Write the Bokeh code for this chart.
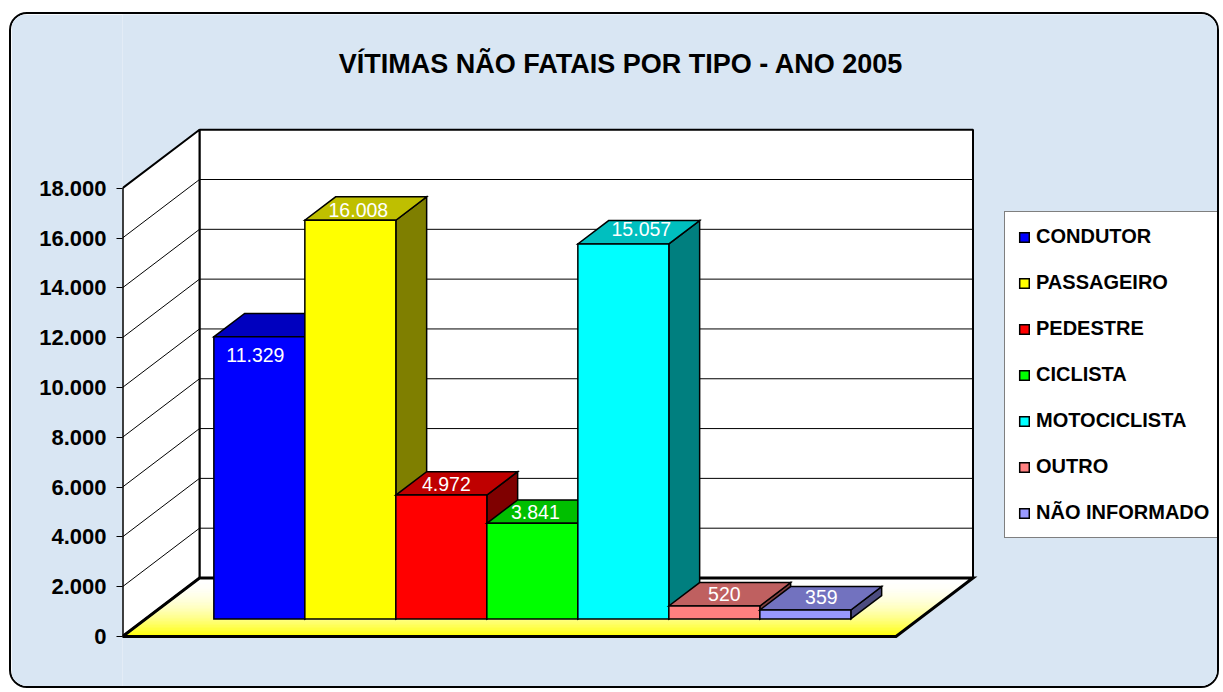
from bokeh.plotting import figure
from bokeh.models import Range1d, Legend, LegendItem, Label, FixedTicker, ColumnDataSource
from bokeh.embed import file_html
from bokeh.resources import INLINE

# ---------------- data ----------------
title_text = "VÍTIMAS NÃO FATAIS POR TIPO - ANO 2005"
categories = ["CONDUTOR", "PASSAGEIRO", "PEDESTRE", "CICLISTA",
              "MOTOCICLISTA", "OUTRO", "NÃO INFORMADO"]
vitimas = [11329, 16008, 4972, 3841, 15057, 520, 359]
y_ticks = [0, 2000, 4000, 6000, 8000, 10000, 12000, 14000, 16000, 18000]
y_tick_labels = ["0", "2.000", "4.000", "6.000", "8.000", "10.000",
                 "12.000", "14.000", "16.000", "18.000"]

# ---------------- style ----------------
front_colors = ["#0000ff", "#ffff00", "#ff0000", "#00ff00",
                "#00ffff", "#ff8080", "#9999ff"]
# pixel nudges of the value labels (right, down) from the top-front centre
label_nudge_px = [(-4, 18), (8, -10), (5, -11.5), (3, -11.5),
                  (18, -14.5), (10, -11.5), (16, -13.5)]
BG = "#d9e6f3"
FONT = "Liberation Sans"

OX, OY = 11, 14           # page position of the canvas origin
W, H = 1210, 676          # canvas size (inside a 2px css border)
LEFT = 122 - OX           # frame left (canvas px) = front edge of left wall
PX_X = 91.0               # px per category slot
PX_Y = 448.3 / y_ticks[-1]  # px per unit of value
Y0 = 636 - OY             # canvas y of value 0 on the front plane
DEPTH_PX = (77.0, 58.5)   # 3D depth vector in px
GAP = 0.75                # gap between floor edge and first/last bar (slots)
D_FRONT, D_BACK = 0.3, 0.7
TITLE_BASE_PAGE_Y = 63.5


def shade(hexc, f):
    r, g, b = (int(hexc[i:i + 2], 16) for i in (1, 3, 5))
    return "#%02x%02x%02x" % (int(r * f), int(g * f), int(b * f))


def fmt(v):
    return f"{v:,}".replace(",", ".")


p = figure(width=W, height=H, output_backend="svg", toolbar_location=None,
           title=None, x_axis_type=None,
           x_range=Range1d(0, (W - LEFT) / PX_X),
           y_range=Range1d(-(H - Y0) / PX_Y, Y0 / PX_Y),
           min_border_left=LEFT, min_border_right=0,
           min_border_top=0, min_border_bottom=0)
p.styles = {"border": "2px solid black", "border-radius": "18px",
            "overflow": "hidden", "margin-left": "%dpx" % (OX - 2),
            "margin-top": "%dpx" % (OY - 2)}
p.background_fill_color = BG
p.border_fill_color = BG
p.outline_line_color = None
p.grid.visible = False

dx = DEPTH_PX[0] / PX_X
dy = DEPTH_PX[1] / PX_Y
n = len(categories)
floor_w = n + 2 * GAP
ymax = y_ticks[-1]

# ---------------- floor (gradient yellow -> white) ----------------
N = 40
fxs, fys, fcs = [], [], []
for j in range(N):
    t0, t1 = j / N, (j + 1) / N
    tm = (t0 + t1) / 2
    blue = int(255 * (1 - (1 - tm) ** 2))
    fxs.append([t0 * dx, floor_w + t0 * dx, floor_w + t1 * dx, t1 * dx])
    fys.append([t0 * dy, t0 * dy, t1 * dy, t1 * dy])
    fcs.append("#ffff%02x" % blue)
p.patches(xs=fxs, ys=fys, fill_color=fcs, line_color=fcs, line_width=1)

# back wall
p.patch([dx, floor_w + dx, floor_w + dx, dx],
        [dy, dy, ymax + dy, ymax + dy],
        fill_color="white", line_color="black", line_width=2)
# left wall
p.patch([0, 0, dx, dx], [0, ymax, ymax + dy, dy],
        fill_color="white", line_color="black", line_width=2)
# gridlines
inner = y_ticks[1:-1]
p.segment(x0=[dx] * len(inner), y0=[v + dy for v in inner],
          x1=[floor_w + dx] * len(inner), y1=[v + dy for v in inner],
          line_color="black", line_width=1)
p.segment(x0=[0] * len(inner), y0=inner,
          x1=[dx] * len(inner), y1=[v + dy for v in inner],
          line_color="black", line_width=1)
# floor outline
p.patch([0, floor_w, floor_w + dx, dx], [0, 0, dy, dy],
        fill_color=None, line_color="black", line_width=3, line_join="miter")
# front edge of the left wall (axis line)
p.segment(x0=[0], y0=[0], x1=[0], y1=[ymax], line_color="black", line_width=2)

# ---------------- bars ----------------
fx, fy = D_FRONT * dx, D_FRONT * dy
bx, by = D_BACK * dx, D_BACK * dy
items = []
for i, (cat, v, c) in enumerate(zip(categories, vitimas, front_colors)):
    xl = GAP + i
    xr = xl + 1
    side_x = [xr + fx, xr + bx, xr + bx, xr + fx]
    side_y = [fy, by, v + by, v + fy]
    top_x = [xl + fx, xr + fx, xr + bx, xl + bx]
    top_y = [v + fy, v + fy, v + by, v + by]
    p.patches(xs=[side_x, top_x], ys=[side_y, top_y],
              fill_color=[shade(c, 0.5), shade(c, 0.75)],
              line_color="black", line_width=1.5, line_join="miter")
    r = p.quad(left=[xl + fx], right=[xr + fx], bottom=[fy], top=[v + fy],
               fill_color=c, line_color="black", line_width=1.5,
               line_join="miter")
    items.append(LegendItem(label=cat, renderers=[r]))

# ---------------- value labels ----------------
lab_src = ColumnDataSource(dict(
    x=[GAP + i + 0.5 + fx + label_nudge_px[i][0] / PX_X for i in range(n)],
    y=[v + fy - label_nudge_px[i][1] / PX_Y for i, v in enumerate(vitimas)],
    t=[fmt(v) for v in vitimas]))
p.text(x="x", y="y", text="t", source=lab_src, text_color="white",
       text_font={"value": FONT}, text_font_size={"value": "19.5px"},
       text_align="center", text_baseline="middle")

# ---------------- axis ----------------
ax = p.yaxis[0]
ax.ticker = FixedTicker(ticks=y_ticks)
ax.major_label_overrides = {t: l for t, l in zip(y_ticks, y_tick_labels)}
ax.axis_line_color = None
ax.major_tick_out = 6
ax.major_tick_in = 0
ax.minor_tick_out = 0
ax.minor_tick_in = 0
ax.major_tick_line_color = "black"
ax.major_tick_line_width = 1
ax.major_label_standoff = 10
ax.major_label_text_font = FONT
ax.major_label_text_font_style = "bold"
ax.major_label_text_font_size = "22px"
ax.major_label_text_color = "black"

# ---------------- title ----------------
p.add_layout(Label(x=(620.5 - OX - LEFT) / PX_X,
                   y=(Y0 - (TITLE_BASE_PAGE_Y - OY)) / PX_Y,
                   text=title_text, text_align="center",
                   text_baseline="alphabetic", text_font=FONT,
                   text_font_style="bold", text_font_size="27px",
                   text_color="black"))

# ---------------- legend ----------------
frame_bottom_page = OY + H
legend = Legend(items=items, location=(1004 - 122, frame_bottom_page - 538),
                label_text_font=FONT, label_text_font_style="bold",
                label_text_font_size="20px", label_text_color="black",
                glyph_width=12, glyph_height=12, label_standoff=6,
                padding=13, spacing=23, label_height=22, margin=0,
                border_line_color="black", border_line_width=1,
                background_fill_color="white", background_fill_alpha=1)
p.add_layout(legend)

open("out.html", "w").write(file_html(p, INLINE))
